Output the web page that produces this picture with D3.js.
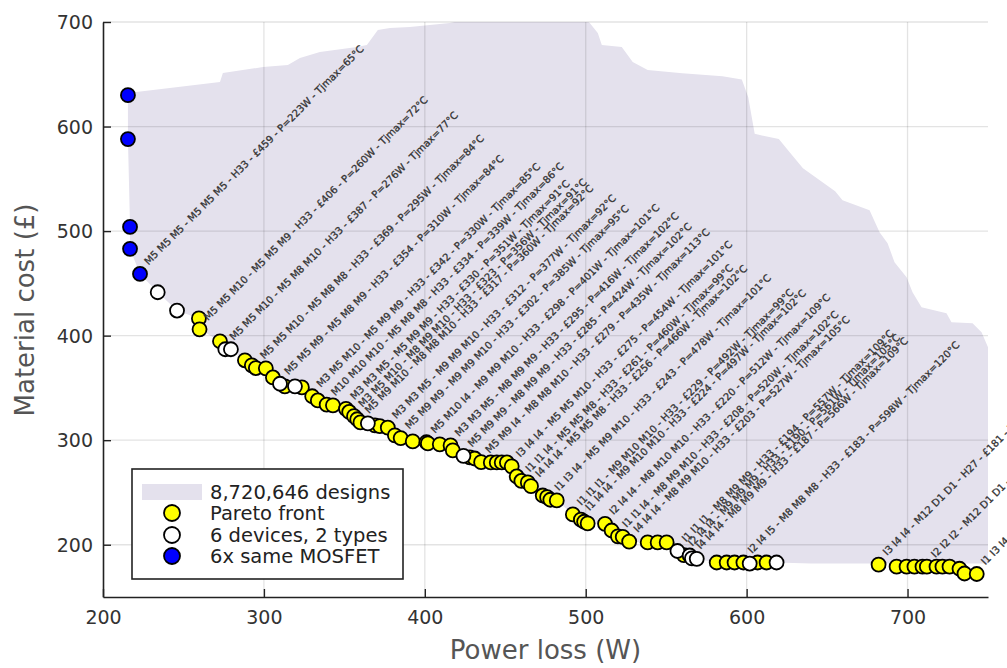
<!DOCTYPE html>
<html><head><meta charset="utf-8">
<script src="https://cdn.jsdelivr.net/npm/d3@7"></script>
<style>body{margin:0;background:#fff}svg{display:block;font-family:"DejaVu Sans",sans-serif}</style>
</head><body><svg id="c" width="1007" height="668"></svg>
<script>
// ---- data ----
const xTicks = [200, 300, 400, 500, 600, 700];
const yTicks = [200, 300, 400, 500, 600, 700];
const legendLabels = ["8,720,646 designs", "Pareto front", "6 devices, 2 types", "6x same MOSFET"];

// upper outline of the explored design space (power W, cost £)
const designSpaceTop = [
  [215.5,632],[272.7,642.6],[274.5,651.2],[299.4,656.9],[314.9,658.8],[322.4,665.5],[334.8,671.3],
  [357.8,676.1],[364,678],[370.8,692.3],[378.3,694.3],[390.7,695.2],[415.5,699],[428,703],[496.3,703],
  [500.6,701],[502.5,699],[507.5,689.5],[510,678],[522.4,676],[529.2,661.7],[538.5,654],[560,651],
  [585,648],[597,645],[601,628],[605,593],[620,588],[627,575],[635,560],[655,538],[659.6,529.6],
  [676.4,520],[682.6,499],[687.6,488.4],[691.9,470.2],[699.4,455.9],[703.1,441.5],[708.7,427.1],
  [724.2,421.4],[727.3,412.8],[740.4,411.8],[746,403.2],[750,388.8],[750,182]
];

// Pareto front designs (power W, cost £)
const paretoFront = [
  [259.6,416.5],[260,406],[272.7,394.6],[288.2,376.4],[292.5,371.6],[295,369],[301.2,368.7],[305.6,360],
  [313,351.5],[323.6,350.5],[330,342],[333.5,338],[339,334],[342.9,333.3],[351,330],[353,327],[356,323],
  [358,320],[360,317],[369,314.2],[372,313.5],[377,312],[381.4,304.6],[385,302],[392.5,298.8],[401,298],
  [401.9,296.9],[409.3,296],[416,295],[417.4,290.2],[428,283.5],[431,282.5],[435,279],[441,278.7],
  [444.7,278.7],[447.8,278.7],[451,278.7],[454,275],[457.1,265.3],[460,261],[464,259.6],[466,256],
  [473.3,247.1],[476,245.5],[478,243],[482,242.4],[492,229],[497,224],[499,222],[501.2,220.4],[512,220],
  [516.1,213.6],[520,208],[523,207.5],[527,203],[538.5,202.2],[544.7,202.2],[550.3,202.2],[561,190],
  [581.4,183],[587.6,183],[592.5,183],[598,183],[606.8,183],[612.4,183],[682,181],[693.2,179],[699.4,179],
  [704.3,179],[709.3,179],[712,179],[718,179],[721.7,179],[726.1,179],[732.3,177],[735.4,172.5],[743,172]
];
const twoTypes = [
  [234,441.5],[246,424],[276,387],[279.5,387],[310,354],[319.3,351.5],[364.6,316.1],[424,285],
  [557,194],[564.6,189.7],[566,187],[569,186.5],[601.9,182],[618.6,183]
];
const sameMosfet = [[215.5,630],[215.5,588],[216.8,504],[216.8,483],[223,459]];

// annotated designs
const labelDevices = [
  "M5 M5 M5 - M5 M5 M5","M5 M5 M10 - M5 M5 M9","M5 M5 M10 - M5 M8 M10","M5 M5 M10 - M5 M8 M8",
  "M5 M5 M9 - M5 M8 M9","M3 M5 M10 - M5 M9 M9","M10 M10 M10 - M5 M8 M8","M3 M3 M5 - M5 M9 M9",
  "M3 M5 M10 - M8 M9 M10","M5 M9 M10 - M8 M8 M10","M3 M3 M5 - M9 M9 M10","M5 M9 M9 - M9 M9 M10",
  "M5 M10 I4 - M9 M9 M10","M3 M3 M5 - M8 M9 M9","M5 M9 M9 - M8 M9 M9","M5 M9 I4 - M8 M8 M10",
  "I3 I4 I4 - M5 M5 M10","I1 I1 I4 - M5 M5 M8","I4 I4 I4 - M5 M5 M8","I1 I3 I4 - M5 M9 M10",
  "I1 I1 I1 - M9 M10 M10","I1 I4 I4 - M9 M10 M10","I2 I4 I4 - M8 M10 M10","I1 I1 I4 - M8 M9 M10",
  "I4 I4 I4 - M8 M9 M10","I1 I1 I1 - M8 M9 M9","I2 I4 I4 - M9 M9 M9","I4 I4 I4 - M8 M9 M9",
  "I2 I4 I5 - M8 M8 M8","I3 I4 I4 - M12 D1 D1","I2 I2 I2 - M12 D1 D1","I1 I3 I4 - M12 D1 D1"
];
const labelHeatsink = ["H33","H33","H33","H33","H33","H33","H33","H33","H33","H33","H33","H33","H33","H33","H33","H33",
  "H33","H33","H33","H33","H33","H33","H33","H33","H33","H33","H33","H33","H33","H27","H27","H27"];
const labelCost = [459,406,387,369,354,342,334,330,323,317,312,302,298,295,285,279,275,261,256,243,229,224,220,208,203,194,190,187,183,181,179,172];
const labelPower = [223,260,276,295,310,330,339,351,356,360,377,385,401,416,424,435,454,460,466,478,492,497,512,520,527,557,561,566,598,682,712,743];
const labelTj = [65,72,77,84,84,85,86,91,91,92,92,95,101,102,102,113,101,99,102,101,99,102,109,102,105,109,105,109,120,121,123,125];

// ---- chart ----
const svg = d3.select("#c");
const L = 103, R = 988, T = 22, B = 597;
const x = d3.scaleLinear().domain([200, 750]).range([L, R]);
const y = d3.scaleLinear().domain([150, 700]).range([B, T]);
const fillCol = "#e4e1ed";

svg.append("defs").append("clipPath").attr("id", "pa")
  .append("rect").attr("x", L).attr("y", T).attr("width", R - L).attr("height", B - T);

// design-space region: top outline, then back along the Pareto front
const frontAll = paretoFront.concat(twoTypes, sameMosfet)
  .filter(d => d[0] < 650)
  .sort((a, b) => b[0] - a[0] || a[1] - b[1]);
const region = designSpaceTop.concat([[640, 182]], frontAll);
svg.append("path").attr("clip-path", "url(#pa)")
  .attr("d", d3.line().x(d => x(d[0])).y(d => y(d[1]))(region) + "Z")
  .attr("fill", fillCol).attr("stroke", "none");

// grid
const g = svg.append("g");
g.selectAll(".gx").data(xTicks.slice(1)).join("line")
  .attr("x1", d => x(d)).attr("x2", d => x(d)).attr("y1", T).attr("y2", B)
  .attr("stroke", "rgba(0,0,0,0.11)").attr("stroke-width", 1.3);
g.selectAll(".gy").data(yTicks).join("line")
  .attr("y1", d => y(d)).attr("y2", d => y(d)).attr("x1", L).attr("x2", R)
  .attr("stroke", "rgba(0,0,0,0.11)").attr("stroke-width", 1.3);

// axes
const xa = svg.append("g").attr("transform", `translate(0,${B})`)
  .call(d3.axisBottom(x).tickValues(xTicks).tickSizeInner(-8).tickSizeOuter(0).tickPadding(14));
const ya = svg.append("g").attr("transform", `translate(${L},0)`)
  .call(d3.axisLeft(y).tickValues(yTicks).tickSizeInner(-8).tickSizeOuter(0).tickPadding(10));
[xa, ya].forEach(a => {
  a.select(".domain").attr("stroke", "#222").attr("stroke-width", 1.6);
  a.selectAll(".tick line").attr("stroke", "#222").attr("stroke-width", 1.4);
  a.selectAll(".tick text").attr("font-size", 19).attr("fill", "#333").attr("font-family", "DejaVu Sans");
});
ya.selectAll(".tick text").attr("dy", "0.35em");

svg.append("text").attr("x", (L + R) / 2).attr("y", 659).attr("text-anchor", "middle")
  .attr("font-size", 26).attr("fill", "#555").text("Power loss (W)");
svg.append("text").attr("transform", "translate(34,310) rotate(-90)").attr("text-anchor", "middle")
  .attr("font-size", 26).attr("fill", "#555").text("Material cost (£)");

// points
function drawPts(data, color) {
  svg.append("g").selectAll("circle").data(data).join("circle")
    .attr("cx", d => x(d[0])).attr("cy", d => y(d[1])).attr("r", 7)
    .attr("fill", color).attr("stroke", "#000").attr("stroke-width", 1.8);
}
drawPts(paretoFront, "#ffff00");
drawPts(twoTypes, "#ffffff");
drawPts(sameMosfet, "#0000ff");

// annotations
const labels = labelDevices.map((dv, i) => ({
  p: labelPower[i], c: labelCost[i],
  t: `${dv} - ${labelHeatsink[i]} - £${labelCost[i]} - P=${labelPower[i]}W - Tjmax=${labelTj[i]}°C`
}));
svg.append("g").selectAll("text").data(labels).join("text")
  .attr("transform", d => `translate(${x(d.p)},${y(d.c)}) rotate(-45)`)
  .attr("x", 12).attr("y", 0)
  .attr("font-size", 10).attr("fill", "#2e2e2e").attr("stroke", "#3a3a3a").attr("stroke-width", 0.3)
  .text(d => d.t);

// legend
const lg = svg.append("g");
lg.append("rect").attr("x", 132).attr("y", 469).attr("width", 271).attr("height", 110)
  .attr("fill", "#fff").attr("stroke", "#222").attr("stroke-width", 1.6);
const ly = [492, 513, 535, 556];
lg.append("rect").attr("x", 142).attr("y", 484).attr("width", 60).attr("height", 16).attr("fill", fillCol);
const lc = [null, "#ffff00", "#ffffff", "#0000ff"];
lc.forEach((c, i) => { if (c) lg.append("circle").attr("cx", 172).attr("cy", ly[i]).attr("r", 8)
  .attr("fill", c).attr("stroke", "#000").attr("stroke-width", 1.8); });
lg.selectAll("text").data(legendLabels).join("text")
  .attr("x", 210).attr("y", (d, i) => ly[i]).attr("dy", "0.35em")
  .attr("font-size", 19.5).attr("fill", "#222").text(d => d);
</script></body></html>
